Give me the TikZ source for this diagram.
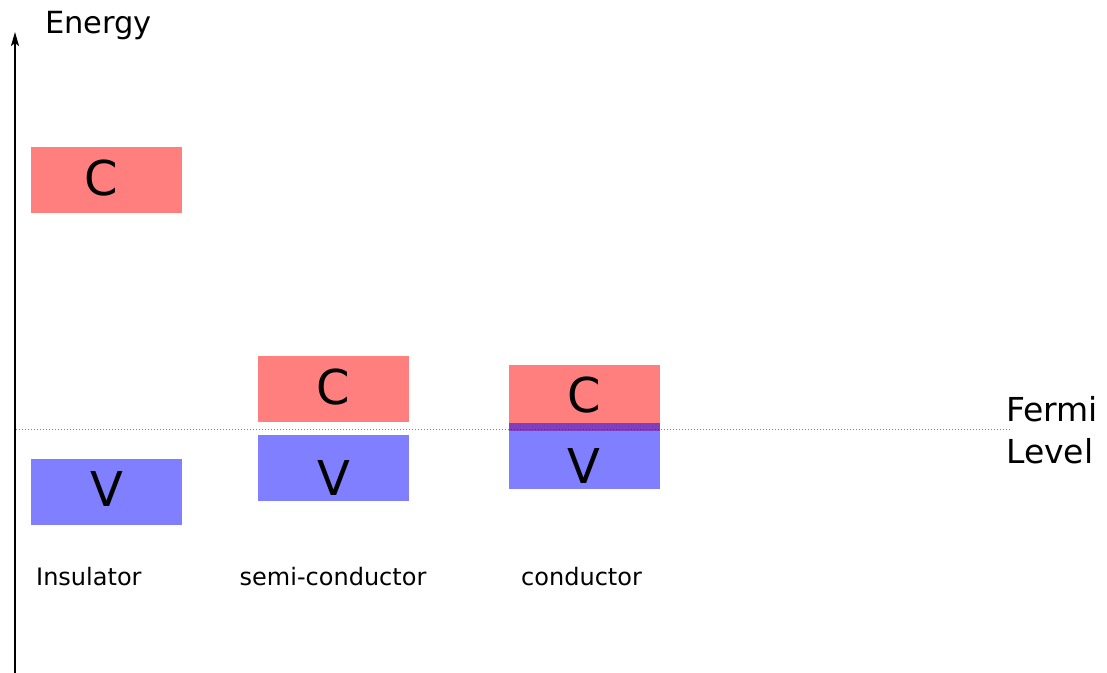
\documentclass[tikz,border=0pt]{standalone}
\usepackage{fontspec}
\setmainfont{DejaVu Sans}
\usetikzlibrary{arrows.meta}

\begin{document}
\begin{tikzpicture}[x=1bp,y=-1bp,
  band/.style={draw=none,minimum width=151bp,minimum height=66bp,inner sep=0pt,
               fill opacity=0.5,anchor=north west},
  cband/.style={band,fill=red},
  vband/.style={band,fill=blue},
  letter/.style={font=\fontsize{48bp}{48bp}\selectfont,inner sep=0pt,anchor=base},
  title/.style={font=\fontsize{30.5bp}{40bp}\selectfont,inner sep=0pt,anchor=base west},
  side/.style={font=\fontsize{33bp}{40bp}\selectfont,inner sep=0pt,anchor=base west},
  caption/.style={font=\fontsize{24bp}{28bp}\selectfont,inner sep=0pt,anchor=base west},
  axis/.style={line width=1.5bp,-{Stealth[length=14bp,width=8bp,inset=3bp]}},
  fermi/.style={gray,line width=1bp,dash pattern=on 1.2bp off 1.8bp}
]
\useasboundingbox (0,0) rectangle (1107,673);

% energy axis
\coordinate (axisfoot) at (15,673);
\coordinate (axistip) at (15,32);
\draw[axis] (axisfoot) -- (axistip);
\node[title] (energy) at (45,34) {Energy};

% Fermi level
\coordinate (fermiL) at (16,429);
\coordinate (fermiR) at (1010,429);
\draw[fermi] (fermiL) -- (fermiR);
\node[side] (fermi1) at (1006,421.5) {Fermi};
\node[side] (fermi2) at (1006,463) {Level};

% insulator
\node[cband] (insC) at (31,147) {};
\node[vband] (insV) at (31,459) {};
\node[letter] (insCt) at (101.5,195.5) {C};
\node[letter] (insVt) at (107,506) {V};
\node[caption] (insL) at (36,585) {Insulator};

% semi-conductor
\node[cband] (semC) at (257.5,356) {};
\node[vband] (semV) at (258,435) {};
\node[letter] (semCt) at (333,404.5) {C};
\node[letter] (semVt) at (333.5,495) {V};
\node[caption] (semL) at (239.5,585) {semi-conductor};

% conductor
\node[cband] (conC) at (509,365) {};
\node[vband] (conV) at (509,423) {};
\node[letter] (conCt) at (584,412.5) {C};
\node[letter] (conVt) at (583.5,483) {V};
\node[caption] (conL) at (521,585) {conductor};
\end{tikzpicture}
\end{document}
